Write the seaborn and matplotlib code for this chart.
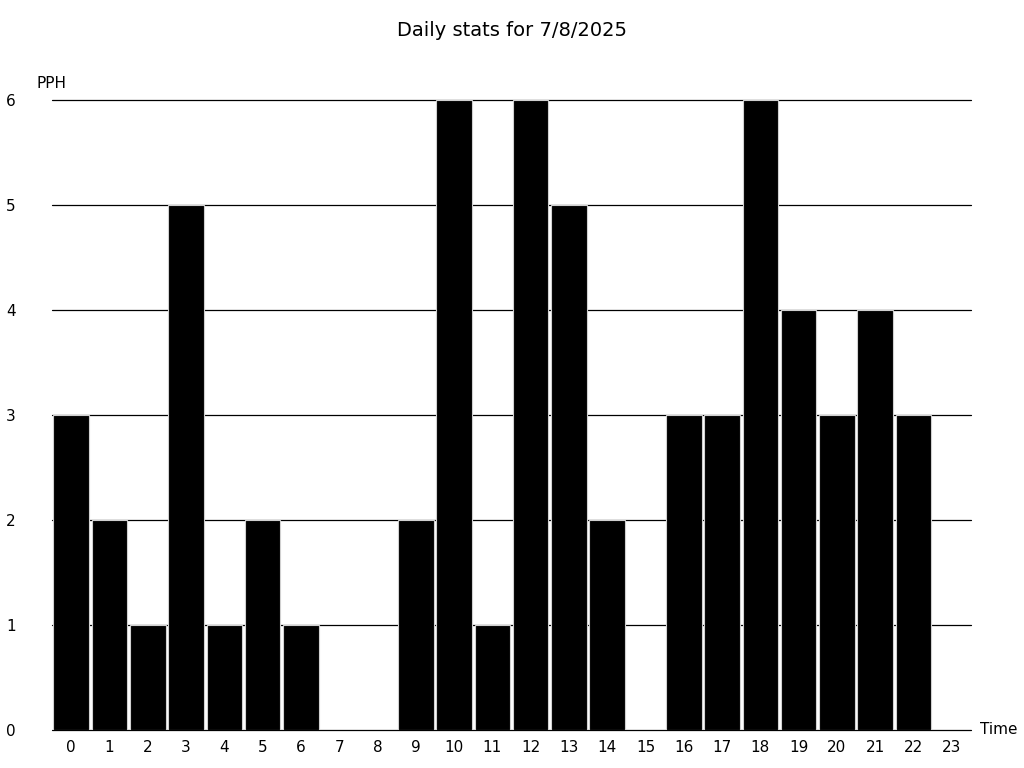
import seaborn as sns
import matplotlib.pyplot as plt
import pandas as pd

# hourly values
hours = [str(h) for h in range(24)]
pph = [3, 2, 1, 5, 1, 2, 1, 0, 0, 2, 6, 1, 6, 5, 2, 0, 3, 3, 6, 4, 3, 4, 3, 0]
y_ticks = [0, 1, 2, 3, 4, 5, 6]

data = pd.DataFrame({'hour': hours, 'pph': pph})

sns.set_style('white')
plt.rcParams['font.family'] = ['DejaVu Sans']
plt.rcParams['text.color'] = 'black'
plt.rcParams['xtick.color'] = 'black'
plt.rcParams['ytick.color'] = 'black'

fig = plt.figure(figsize=(10.24, 7.68), dpi=100)
ax = fig.add_axes([52 / 1024, 1 - 730 / 768, 919 / 1024, 630 / 768])

# horizontal guide lines, drawn under the bars
for y in y_ticks:
    ax.axhline(y, color='black', linewidth=0.9, zorder=0, clip_on=False)

sns.barplot(
    x='hour', y='pph', data=data, order=hours,
    color='black', saturation=1, width=0.93,
    edgecolor='#d0d0d0', linewidth=0.8, ax=ax, zorder=2
)

ax.set_xlim(-0.5, 23.5)
ax.set_ylim(0, 6)
ax.set_yticks(y_ticks)
ax.set_xlabel('')
ax.set_ylabel('')
for s in ax.spines.values():
    s.set_visible(False)
ax.tick_params(axis='y', length=0, pad=26, labelsize=11)
ax.tick_params(axis='x', length=0, pad=7, labelsize=11)

fig.text(37 / 1024, 1 - 84 / 768, 'PPH', fontsize=11, ha='left', va='center')
fig.text(980 / 1024, 1 - 730 / 768, 'Time', fontsize=11, ha='left', va='center')
fig.suptitle('Daily stats for 7/8/2025', y=1 - 30 / 768, va='center', fontsize=14)

fig.savefig('out.png', dpi=100)
